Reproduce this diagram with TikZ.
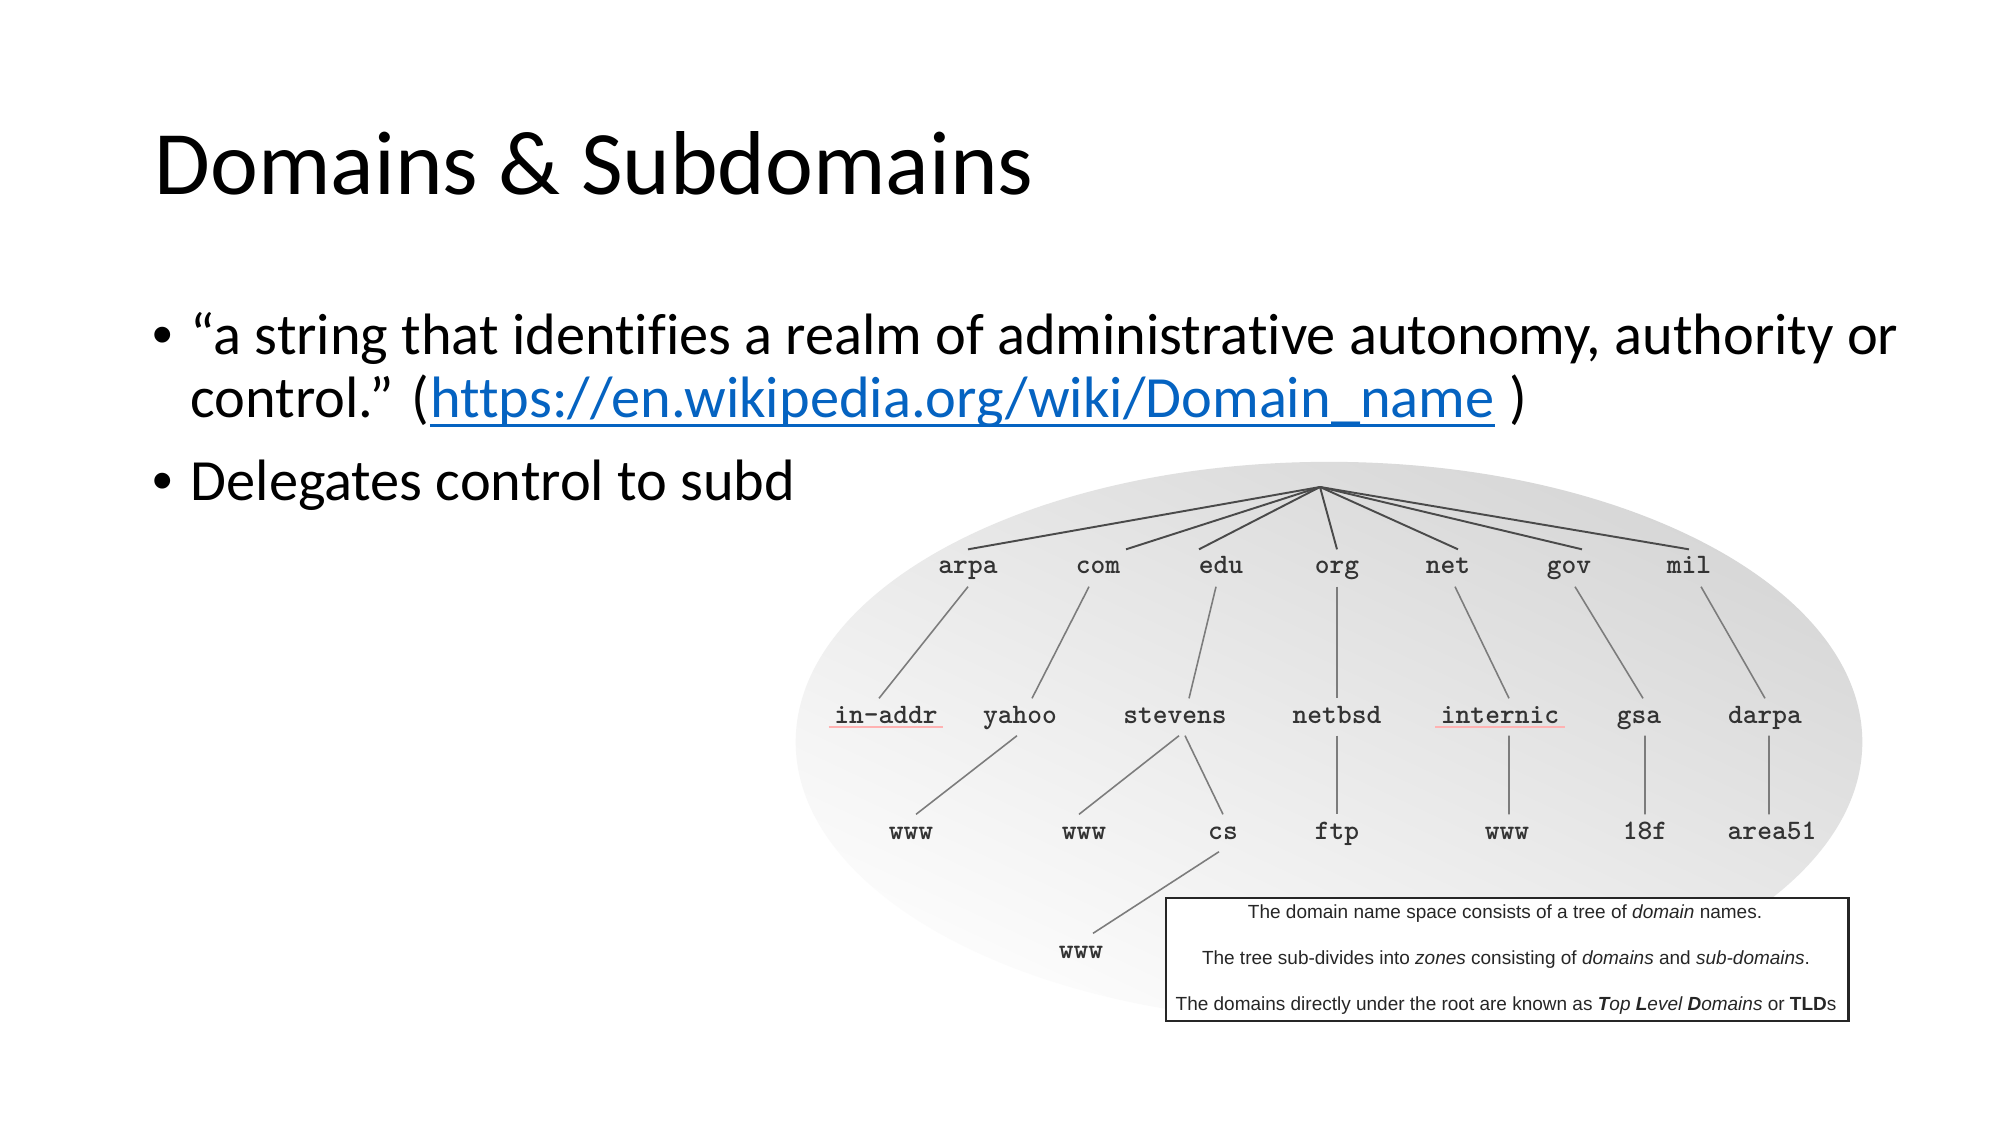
\documentclass[tikz,border=0pt]{standalone}
\usepackage{fontspec}
\setmainfont{Carlito}[Ligatures=NoCommon]
\newfontfamily\notefont{Liberation Sans}
\usetikzlibrary{calc}
\definecolor{linkblue}{HTML}{0563C1}
\definecolor{edgedark}{HTML}{4A4A4A}
\definecolor{edgelight}{HTML}{7C7C7C}
\newcommand\domfont{\ttfamily\bfseries\fontsize{8}{9}\selectfont}

\begin{document}
\begin{tikzpicture}[x=0.01cm,y=-0.01cm,
  slidetext/.style={inner sep=0pt, anchor=base west, font=\fontsize{16.6}{20}\selectfont},
  bulletmark/.style={inner sep=0pt, anchor=base west, font=\notefont\fontsize{16.6}{20}\selectfont},
  dom/.style={anchor=base, inner xsep=0.5mm, inner ysep=1.2mm, text height=3.4pt, text depth=0pt,
    font=\domfont, text=black!80},
  rootedge/.style={draw=edgedark, line width=0.55pt},
  subedge/.style={draw=edgelight, line width=0.45pt},
  noteline/.style={inner sep=0pt, anchor=base, font=\notefont\fontsize{5.4}{6}\selectfont, text=black!85},
  spell/.style={draw=red!30, line width=0.4pt},
]
\useasboundingbox (0,0) rectangle (2000,1125);
\fill[white] (0,0) rectangle (2000,1125);

% slide title and bullets
\node[inner sep=0pt, anchor=base west, font=\fontsize{25.8}{30}\selectfont] (title) at (154,195) {Domains \& Subdomains};
\node[bulletmark] (b1) at (152,355) {•};
\node[slidetext] (l1) at (190,355) {“a string that identifies a realm of administrative autonomy, authority or};
\node[slidetext] (l2) at (190,418) {control.” (};
\node[slidetext, text=linkblue] (link) at (l2.base east) {https://en.wikipedia.org/wiki/Domain\_name};
\node[slidetext] (l2end) at ([xshift=1.3mm]link.base east) {)};
\draw[linkblue, line width=0.8pt] ([yshift=-0.75mm]link.base west) -- ([yshift=-0.75mm]link.base east);
\node[bulletmark] (b2) at (152,501) {•};
\node[slidetext] (l3) at (190,501) {Delegates control to subdomains};

% figure panel on top of the text
\fill[white] (797,445) rectangle (1885,1040);
\shade[top color=black!16, middle color=black!9, bottom color=black!1, shading angle=-25]
  (1329,742) ellipse [x radius=5.33cm, y radius=2.8cm];

% name space tree
\coordinate (root) at (1320,487);

\node[dom] (arpa) at (968,574) {arpa};
\node[dom] (com)  at (1098,574) {com};
\node[dom] (edu)  at (1221,574) {edu};
\node[dom] (org)  at (1337,574) {org};
\node[dom] (net)  at (1448,574) {net};
\node[dom] (gov)  at (1569,574) {gov};
\node[dom] (mil)  at (1689,574) {mil};

\node[dom] (inaddr)   at (886,723)  {in-addr};
\node[dom] (yahoo)    at (1020,723) {yahoo};
\node[dom] (stevens)  at (1175,723) {stevens};
\node[dom] (netbsd)   at (1337,723) {netbsd};
\node[dom] (internic) at (1500,723) {internic};
\node[dom] (gsa)      at (1639,723) {gsa};
\node[dom] (darpa)    at (1765,723) {darpa};

\node[dom] (wwwyahoo)   at (911,839)  {www};
\node[dom] (wwwstevens) at (1084,839) {www};
\node[dom] (cs)         at (1223,839) {cs};
\node[dom] (ftp)        at (1337,839) {ftp};
\node[dom] (wwwnet)     at (1507,839) {www};
\node[dom] (eighteenf)  at (1645,839) {18f};
\node[dom] (area)       at (1772,839) {area51};

\node[dom] (wwwcs) at (1081,958) {www};

% spell-check marks under two labels
\draw[spell] ([yshift=-0.4mm]inaddr.base west) -- ([yshift=-0.4mm]inaddr.base east);
\draw[spell] ([yshift=-0.4mm]internic.base west) -- ([yshift=-0.4mm]internic.base east);

% top level links
\draw[rootedge] (root) -- (arpa.north);
\draw[rootedge] (root) -- ([xshift=2.8mm]com.north);
\draw[rootedge] (root) -- ([xshift=-2.2mm]edu.north);
\draw[rootedge] (root) -- (org.north);
\draw[rootedge] (root) -- ([xshift=1mm]net.north);
\draw[rootedge] (root) -- ([xshift=1.3mm]gov.north);
\draw[rootedge] (root) -- (mil.north);

% second level links
\draw[subedge] (arpa.south) -- ([xshift=-0.7mm]inaddr.north);
\draw[subedge] ([xshift=-0.9mm]com.south) -- ([xshift=1.2mm]yahoo.north);
\draw[subedge] ([xshift=-0.5mm]edu.south) -- ([xshift=1.4mm]stevens.north);
\draw[subedge] (org.south) -- (netbsd.north);
\draw[subedge] ([xshift=0.7mm]net.south) -- ([xshift=0.9mm]internic.north);
\draw[subedge] ([xshift=0.6mm]gov.south) -- ([xshift=0.4mm]gsa.north);
\draw[subedge] ([xshift=1.2mm]mil.south) -- (darpa.north);

% third and fourth level links
\draw[subedge] ([xshift=-0.3mm]yahoo.south) -- ([xshift=0.5mm]wwwyahoo.north);
\draw[subedge] ([xshift=0.4mm]stevens.south) -- ([xshift=-0.5mm]wwwstevens.north);
\draw[subedge] ([xshift=1mm]stevens.south) -- (cs.north);
\draw[subedge] (netbsd.south) -- (ftp.north);
\draw[subedge] ([xshift=0.9mm]internic.south) -- ([xshift=0.2mm]wwwnet.north);
\draw[subedge] ([xshift=0.6mm]gsa.south) -- (eighteenf.north);
\draw[subedge] ([xshift=0.4mm]darpa.south) -- ([xshift=-0.3mm]area.north);
\draw[subedge] ([xshift=-0.4mm]cs.south) -- ([xshift=1.2mm]wwwcs.north);

% caption box
\node[draw=black!85, line width=0.6pt, fill=white, minimum width=6.82cm, minimum height=1.23cm,
  inner sep=0pt, anchor=north west] (notebox) at (1165,897) {};
\node[noteline] (n1) at (1505,918) {The domain name space consists of a tree of \textit{domain} names.};
\node[noteline] (n2) at (1506,964) {The tree sub-divides into \textit{zones} consisting of \textit{domains} and \textit{sub-domains}.};
\node[noteline] (n3) at (1506,1010) {The domains directly under the root are known as \textit{\textbf{T}op \textbf{L}evel \textbf{D}omains} or \textbf{TLD}s};
\end{tikzpicture}
\end{document}
